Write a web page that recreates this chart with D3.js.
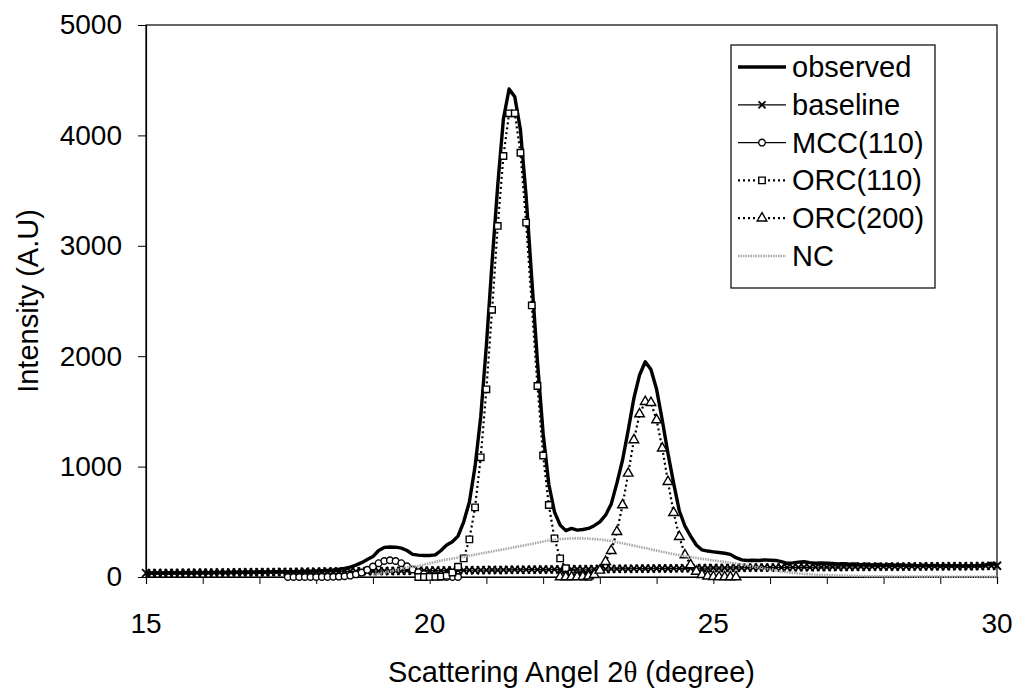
<!DOCTYPE html>
<html>
<head>
<meta charset="utf-8">
<script src="https://cdn.jsdelivr.net/npm/d3@7"></script>
<style>
  body { margin: 0; background: #fff; }
  text { font-family: "Liberation Sans", Arial, sans-serif; fill: #000; }
</style>
</head>
<body>
<div id="chart"></div>
<script>
// scan step of the diffractometer (degree)
const angleStep = 0.1;

// observed intensity, 15.0 .. 30.0
const observedStart = 15.0;
const observed = [
  34, 36, 35, 37, 36, 38, 37, 38, 39, 38,
  40, 39, 41, 40, 42, 41, 43, 42, 44, 43,
  45, 44, 46, 47, 46, 48, 49, 50, 52, 53,
  55, 57, 60, 64, 70, 78, 90, 108, 130, 158,
  185, 240, 268, 272, 270, 262, 240, 205, 198, 195,
  195, 200, 240, 290, 320, 370, 500, 680, 1000, 1450,
  2100, 2850, 3550, 4150, 4420, 4350, 4050, 3450, 2700, 1950,
  1300, 840, 590, 470, 420, 440, 425, 430, 440, 465,
  500, 560, 660, 850, 1060, 1330, 1620, 1830, 1950, 1880,
  1700, 1420, 1120, 850, 600, 460, 370, 290, 245, 235,
  228, 222, 215, 205, 175, 155, 150, 152, 150, 155,
  152, 150, 140, 124, 128, 135, 138, 130, 125, 127,
  124, 122, 118, 120, 115, 118, 112, 115, 110, 113,
  108, 111, 106, 109, 104, 107, 103, 106, 102, 105,
  101, 104, 100, 103, 99, 102, 101, 104, 110, 124,
  112
];

// baseline, 15.0 .. 30.0
const baselineStart = 15.0;
const baseline = [
  36, 35, 37, 36, 38, 37, 37, 39, 38, 39,
  39, 40, 39, 41, 40, 42, 41, 42, 43, 42,
  44, 43, 45, 44, 46, 45, 47, 46, 48, 47,
  49, 48, 50, 49, 51, 50, 52, 51, 53, 52,
  54, 53, 55, 54, 56, 55, 57, 56, 58, 57,
  58, 59, 58, 60, 59, 61, 60, 62, 61, 63,
  62, 64, 63, 65, 64, 66, 65, 67, 66, 67,
  68, 67, 69, 68, 70, 69, 71, 70, 72, 71,
  73, 72, 74, 73, 75, 74, 76, 75, 77, 76,
  77, 78, 77, 79, 78, 80, 79, 80, 81, 80,
  82, 81, 83, 82, 84, 83, 85, 84, 85, 86,
  85, 87, 86, 88, 87, 88, 89, 88, 90, 89,
  90, 91, 90, 92, 91, 92, 93, 92, 93, 94,
  93, 94, 95, 94, 95, 96, 95, 96, 97, 96,
  97, 96, 98, 97, 98, 97, 99, 98, 100, 101,
  102
];

// MCC(110), 17.5 .. 20.5
const mccStart = 17.5;
const mcc = [
  0, 0, 0, 0, 0, 0, 1, 1, 2, 4,
  7, 13, 24, 40, 65, 95, 125, 145, 152, 145,
  125, 97, 68, 44, 26, 14, 7, 3, 1, 0,
  0
];

// ORC(110), 19.8 .. 22.8
const orc110Start = 19.8;
const orc110 = [
  0, 0, 1, 2, 5, 12, 40, 93, 169, 341,
  631, 1084, 1700, 2420, 3180, 3813, 4200, 4200, 3843, 3210,
  2460, 1730, 1100, 652, 350, 169, 80, 30, 10, 3,
  1
];

// ORC(200), 22.3 .. 25.4
const orc200Start = 22.3;
const orc200 = [
  0, 0, 0, 1, 3, 8, 20, 60, 139, 238,
  410, 652, 939, 1241, 1476, 1588, 1579, 1422, 1166, 863,
  582, 365, 199, 110, 50, 20, 7, 2, 1, 0,
  0, 0
];

// NC (non crystalline), own angles
const ncAngles = [19.0, 19.3, 19.6, 19.8, 20.0, 20.3, 20.6, 21.0, 21.4, 21.8, 22.2, 22.6, 23.0, 23.4, 23.8, 24.2, 24.6, 25.0, 25.4, 25.8, 26.2, 26.6, 27.0, 27.5, 28.0, 28.5, 29.0, 29.5, 30.0];
const ncValues = [20, 50, 85, 100, 125, 158, 184, 222, 260, 300, 338, 350, 340, 305, 262, 218, 180, 150, 122, 85, 50, 28, 17, 10, 6, 4, 3, 2, 1];

const xTicks = [15, 20, 25, 30];
const yTicks = [0, 1000, 2000, 3000, 4000, 5000];
const legendNames = ["observed", "baseline", "MCC(110)", "ORC(110)", "ORC(200)", "NC"];

const width = 1015, height = 691;
const plotLeft = 146, plotRight = 997, plotTop = 25, plotBottom = 577;

const svg = d3.select('#chart')
  .append('svg')
  .attr('width', width)
  .attr('height', height)
  .style('background', '#fff');

const x = d3.scaleLinear().domain([15, 30]).range([plotLeft, plotRight]);
const y = d3.scaleLinear().domain([0, 5000]).range([plotBottom, plotTop]);

function stepped(start, values) {
  return values.map((v, i) => ({ a: start + i * angleStep, v: v }));
}

const line = d3.line().x(d => x(d.a)).y(d => y(d.v));

// plot frame
svg.append('rect')
  .attr('x', plotLeft).attr('y', plotTop)
  .attr('width', plotRight - plotLeft).attr('height', plotBottom - plotTop)
  .attr('fill', 'none').attr('stroke', '#000').attr('stroke-width', 1.2);

// y axis
const yAxis = svg.append('g')
  .attr('transform', `translate(${plotLeft},0)`)
  .call(d3.axisLeft(y).tickValues(yTicks).tickSize(8).tickPadding(16).tickFormat(d3.format('d')));
yAxis.select('.domain').attr('stroke-width', 1.2);
yAxis.selectAll('text').style('font-size', '28px').attr('font-family', null);

// x axis: minor ticks every degree, labels at 15/20/25/30
const xAxis = svg.append('g')
  .attr('transform', `translate(0,${plotBottom})`)
  .call(d3.axisBottom(x).tickValues(d3.range(15, 31, 1)).tickSize(7).tickFormat(''));
xAxis.select('.domain').attr('stroke-width', 1.2);

svg.selectAll('.xlab')
  .data(xTicks)
  .enter().append('text')
  .attr('class', 'xlab')
  .attr('x', d => x(d))
  .attr('y', 633)
  .attr('text-anchor', 'middle')
  .style('font-size', '28px')
  .text(d => d);

// axis titles
const xTitle = svg.append('text')
  .attr('x', (plotLeft + plotRight) / 2)
  .attr('y', 682)
  .attr('text-anchor', 'middle')
  .style('font-size', '29px');
xTitle.append('tspan').text('Scattering Angel 2');
xTitle.append('tspan').style('font-family', '"Liberation Serif", "DejaVu Serif", serif').text('θ');
xTitle.append('tspan').text(' (degree)');

svg.append('text')
  .attr('transform', `translate(38,${(plotTop + plotBottom) / 2}) rotate(-90)`)
  .attr('text-anchor', 'middle')
  .style('font-size', '29px')
  .text('Intensity (A.U)');

// marker helpers
function cross(g, cx, cy, s) {
  g.append('path')
    .attr('d', `M${cx - s},${cy - s}L${cx + s},${cy + s}M${cx - s},${cy + s}L${cx + s},${cy - s}`)
    .attr('stroke', '#000').attr('stroke-width', 1.8).attr('fill', 'none');
}
function symbolAt(g, type, size, cx, cy) {
  g.append('path')
    .attr('d', d3.symbol().type(type).size(size)())
    .attr('transform', `translate(${cx},${cy})`)
    .attr('fill', '#fff').attr('stroke', '#000').attr('stroke-width', 1.4);
}

const obsData = stepped(observedStart, observed);
const baseData = stepped(baselineStart, baseline);
const mccData = stepped(mccStart, mcc);
const orc110Data = stepped(orc110Start, orc110);
const orc200Data = stepped(orc200Start, orc200);
const ncData = ncAngles.map((a, i) => ({ a: a, v: ncValues[i] }));

// observed
svg.append('path').datum(obsData)
  .attr('d', line).attr('fill', 'none')
  .attr('stroke', '#000').attr('stroke-width', 3.4).attr('stroke-linejoin', 'round');

// baseline
svg.append('path').datum(baseData)
  .attr('d', line).attr('fill', 'none')
  .attr('stroke', '#000').attr('stroke-width', 1.2);
const gBase = svg.append('g');
baseData.forEach(d => cross(gBase, x(d.a), y(d.v), 4));

// MCC(110)
svg.append('path').datum(mccData)
  .attr('d', line).attr('fill', 'none')
  .attr('stroke', '#000').attr('stroke-width', 1.2);
const gMcc = svg.append('g');
mccData.forEach(d => symbolAt(gMcc, d3.symbolCircle, 34, x(d.a), y(d.v)));

// ORC(110)
svg.append('path').datum(orc110Data)
  .attr('d', line).attr('fill', 'none')
  .attr('stroke', '#000').attr('stroke-width', 2.2).attr('stroke-dasharray', '2,3');
const gO1 = svg.append('g');
orc110Data.forEach(d => symbolAt(gO1, d3.symbolSquare, 42, x(d.a), y(d.v)));

// ORC(200)
svg.append('path').datum(orc200Data)
  .attr('d', line).attr('fill', 'none')
  .attr('stroke', '#000').attr('stroke-width', 2.2).attr('stroke-dasharray', '2,3');
const gO2 = svg.append('g');
orc200Data.forEach(d => symbolAt(gO2, d3.symbolTriangle, 40, x(d.a), y(d.v)));

// NC
const ncLine = d3.line().x(d => x(d.a)).y(d => y(d.v)).curve(d3.curveMonotoneX);
svg.append('path').datum(ncData)
  .attr('d', ncLine).attr('fill', 'none')
  .attr('stroke', '#a8a8a8').attr('stroke-width', 2.6).attr('stroke-dasharray', '1.5,1');

// legend
const lg = svg.append('g');
lg.append('rect')
  .attr('x', 731).attr('y', 45).attr('width', 204).attr('height', 243)
  .attr('fill', '#fff').attr('stroke', '#000').attr('stroke-width', 1.2);

const rowY = d3.scalePoint().domain(legendNames).range([67, 256]);
const x0 = 738, x1 = 786, xm = 762;

legendNames.forEach((name, i) => {
  const cy = rowY(name);
  const seg = lg.append('line')
    .attr('x1', x0).attr('x2', x1).attr('y1', cy).attr('y2', cy)
    .attr('stroke', '#000').attr('stroke-width', 1.2);
  if (i === 0) seg.attr('stroke-width', 3.4);
  if (i === 3 || i === 4) seg.attr('stroke-width', 2.2).attr('stroke-dasharray', '2,3');
  if (i === 5) seg.attr('stroke', '#a8a8a8').attr('stroke-width', 2.6).attr('stroke-dasharray', '1.5,1');
  if (i === 1) cross(lg, xm, cy, 3.5);
  if (i === 2) symbolAt(lg, d3.symbolCircle, 34, xm, cy);
  if (i === 3) symbolAt(lg, d3.symbolSquare, 42, xm, cy);
  if (i === 4) symbolAt(lg, d3.symbolTriangle, 40, xm, cy);
  lg.append('text')
    .attr('x', 792).attr('y', cy)
    .attr('dominant-baseline', 'central')
    .style('font-size', '29px')
    .text(name);
});
</script>
</body>
</html>
